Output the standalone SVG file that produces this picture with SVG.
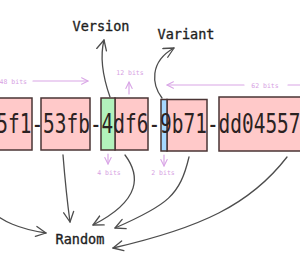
<svg xmlns="http://www.w3.org/2000/svg" width="300" height="260" viewBox="0 0 300 260">
<defs>
<style>
.box{stroke:#4a3535;stroke-width:1.5}
.pink{fill:#ffc9c9}
.green{fill:#b2f2bb}
.blue{fill:#a5d8ff}
.uuid{font-family:"DejaVu Sans Mono","Liberation Mono",monospace;font-size:26px;fill:#2b2222}
.lbl{font-family:"DejaVu Sans Mono","Liberation Mono",monospace;font-size:13.5px;fill:#1e1e1e;stroke:#1e1e1e;stroke-width:0.35}
.note{font-family:"DejaVu Sans Mono","Liberation Mono",monospace;font-size:6.5px;fill:#d7a2e3}
.conn{fill:none;stroke:#4d4d4d;stroke-width:1.3;stroke-linecap:round}
.ann{fill:none;stroke:#d9a6e6;stroke-width:1.2;stroke-linecap:round}
</style>
<marker id="ah" viewBox="0 0 12 12" refX="11" refY="6" markerWidth="12" markerHeight="12" markerUnits="userSpaceOnUse" orient="auto">
<path d="M1 1 L11 6 L1 11" fill="none" stroke="#4d4d4d" stroke-width="1.3" stroke-linecap="round" stroke-linejoin="round"/>
</marker>
<marker id="ap" viewBox="0 0 10 10" refX="9" refY="5" markerWidth="8" markerHeight="8" markerUnits="userSpaceOnUse" orient="auto">
<path d="M1 1 L9 5 L1 9" fill="none" stroke="#d9a6e6" stroke-width="1.4" stroke-linecap="round" stroke-linejoin="round"/>
</marker>
</defs>
<rect width="300" height="260" fill="#ffffff"/>
<g id="segments">
<g id="seg1"><rect class="box pink" x="-10" y="98" width="42" height="52"/></g>
<g id="seg2"><rect class="box pink" x="41" y="98" width="49" height="52"/></g>
<g id="seg3"><rect class="box pink" x="115" y="98" width="33" height="52"/><rect class="box green" x="101" y="98" width="14" height="52"/></g>
<g id="seg4"><rect class="box pink" x="167" y="99.5" width="40" height="51.5"/><rect class="box blue" x="161" y="99.5" width="6" height="51.5"/></g>
<g id="seg5"><rect class="box pink" x="219" y="97" width="95" height="54"/></g>
<text class="uuid" x="-3.7" y="133" textLength="304.2" lengthAdjust="spacingAndGlyphs">5f1-53fb-4df6-9b71-dd04557</text>
</g>
<g id="version"><text class="lbl" x="101" y="31" text-anchor="middle">Version</text></g>
<g id="variant"><text class="lbl" x="186" y="39" text-anchor="middle">Variant</text></g>
<g id="random"><text class="lbl" x="80" y="244" text-anchor="middle">Random</text></g>
<g id="annotations">
<text class="note" x="27" y="83.5" text-anchor="end">48 bits</text>
<path class="ann" d="M33 81 L88 81" marker-end="url(#ap)"/>
<text class="note" x="130" y="75" text-anchor="middle">12 bits</text>
<path class="ann" d="M129 94 L129 82" marker-end="url(#ap)"/>
<text class="note" x="265" y="87.5" text-anchor="middle">62 bits</text>
<path class="ann" d="M244 85 L167 85" marker-end="url(#ap)"/>
<path class="ann" d="M288 85 L302 85"/>
<path class="ann" d="M108 154 L108 164" marker-end="url(#ap)"/>
<text class="note" x="109" y="175" text-anchor="middle">4 bits</text>
<path class="ann" d="M164 155 L164 166" marker-end="url(#ap)"/>
<text class="note" x="163" y="175" text-anchor="middle">2 bits</text>
</g>
<g id="connectors">
<path class="conn" d="M110 97 C104 80,99 60,104 40" marker-end="url(#ah)"/>
<path class="conn" d="M162 98 C152 85,149 62,174 48" marker-end="url(#ah)"/>
<path class="conn" d="M63 155 C65 180,67 200,70 222" marker-end="url(#ah)"/>
<path class="conn" d="M125 155 C140 175,142 200,93 225" marker-end="url(#ah)"/>
<path class="conn" d="M189 157 C180 195,168 205,115 228" marker-end="url(#ah)"/>
<path class="conn" d="M287 157 C250 205,200 228,113 248" marker-end="url(#ah)"/>
<path class="conn" d="M-12 208 C2 222,20 229,46 233" marker-end="url(#ah)"/>
</g>
</svg>
